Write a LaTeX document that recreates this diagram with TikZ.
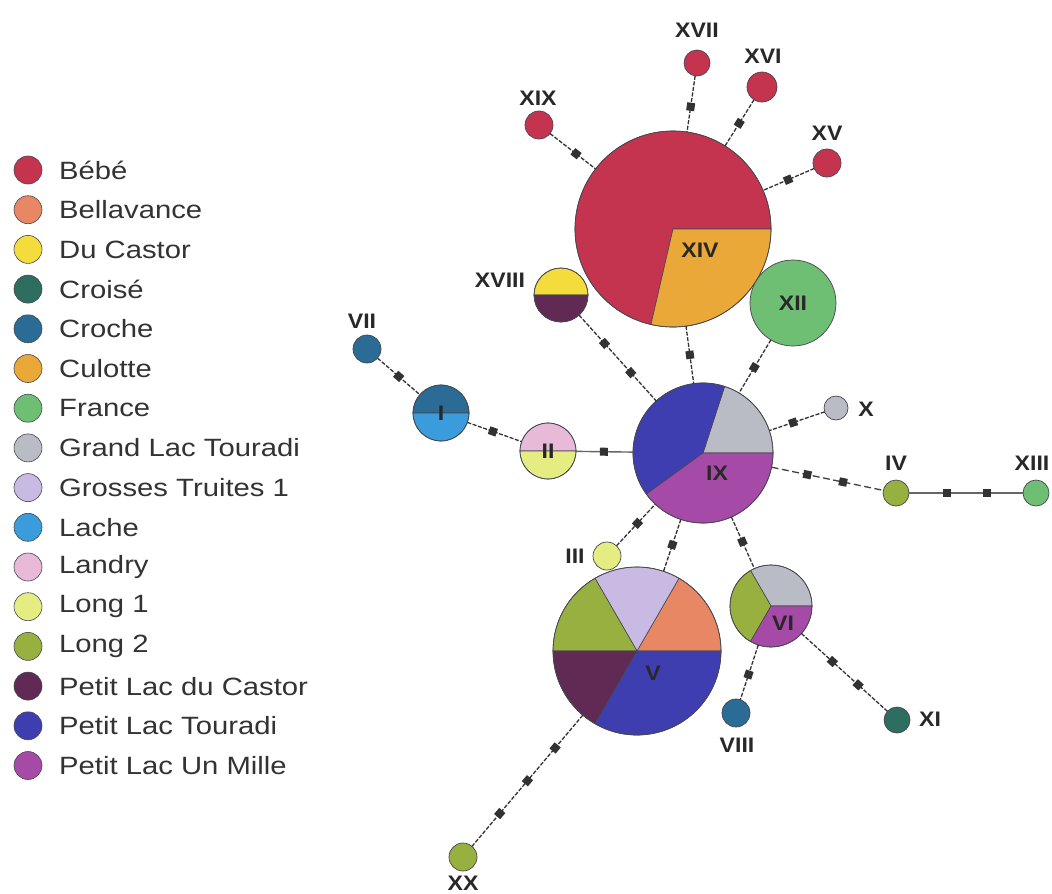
\documentclass[tikz,border=0pt]{standalone}
\usepackage{fontspec}
\setmainfont{Liberation Sans}
\definecolor{bebe}{RGB}{196,52,78}
\definecolor{bellavance}{RGB}{232,135,100}
\definecolor{ducastor}{RGB}{244,220,60}
\definecolor{croise}{RGB}{46,110,96}
\definecolor{croche}{RGB}{42,108,150}
\definecolor{culotte}{RGB}{234,168,56}
\definecolor{france}{RGB}{110,190,115}
\definecolor{grandlac}{RGB}{185,188,196}
\definecolor{grosses}{RGB}{200,186,226}
\definecolor{lache}{RGB}{58,156,218}
\definecolor{landry}{RGB}{232,186,216}
\definecolor{longone}{RGB}{228,236,130}
\definecolor{longtwo}{RGB}{152,176,64}
\definecolor{pldc}{RGB}{96,42,84}
\definecolor{plt}{RGB}{62,62,176}
\definecolor{plum}{RGB}{166,74,168}
\definecolor{edgec}{RGB}{70,70,80}
\definecolor{markc}{RGB}{50,50,50}
\definecolor{numc}{RGB}{40,40,40}
\newcommand{\pslice}[5]{\fill[#5, draw=edgec, line width=0.6pt] (#1) -- ++(#3:#2pt) arc[start angle=#3, end angle=#4, radius=#2pt] -- cycle;}
\tikzset{
  hap/.style={circle, draw=edgec, line width=0.7pt, inner sep=0pt, outer sep=0pt},
  pienode/.style={circle, draw=edgec, line width=0.7pt, inner sep=0pt, outer sep=0pt},
  legdot/.style={circle, draw=edgec, line width=0.6pt, minimum size=28pt, inner sep=0pt},
  legtext/.style={anchor=west, inner sep=0pt, font=\fontsize{25}{28}\selectfont, text=black!80},
  num/.style={inner sep=0pt, font=\bfseries\fontsize{21}{24}\selectfont, text=numc},
  link/.style={draw=black!80, line width=1.3pt, dash pattern=on 4pt off 1.6pt},
  longlink/.style={draw=black!75, line width=1.3pt, dash pattern=on 7pt off 3.5pt},
  solidlink/.style={draw=black!60, line width=1.4pt},
  mut/.style={rectangle, fill=markc, minimum size=8pt, inner sep=0pt, sloped}
}
\begin{document}
\begin{tikzpicture}[x=1pt, y=-1pt]
\useasboundingbox[fill=white] (0,0) rectangle (1052,894);

% ---------- legend ----------
\foreach \c/\t [count=\i from 0] in {bebe/Bébé, bellavance/Bellavance, ducastor/Du Castor, croise/Croisé, croche/Croche, culotte/Culotte, france/France, grandlac/Grand Lac Touradi, grosses/Grosses Truites 1, lache/Lache, landry/Landry, longone/Long 1, longtwo/Long 2, pldc/Petit Lac du Castor, plt/Petit Lac Touradi, plum/Petit Lac Un Mille}{
  \node[legdot, fill=\c] (leg\i) at (28, 170+39.7*\i) {};
  \node[legtext] (legt\i) at (59, 170+39.7*\i) {\scalebox{1.17}[1]{\t}};
}

% ---------- pie charts ----------
% XIV
\coordinate (cXIV) at (673,229);
\pslice{cXIV}{98}{0}{257}{bebe}
\pslice{cXIV}{98}{-103}{0}{culotte}
\node[pienode, minimum size=196pt] (XIV) at (cXIV) {};
\node[num] (tXIV) at (700,250) {\scalebox{1.1}[1]{XIV}};

% XVIII
\coordinate (cXVIII) at (561,295);
\pslice{cXVIII}{27}{0}{180}{ducastor}
\pslice{cXVIII}{27}{180}{360}{pldc}
\node[pienode, minimum size=54pt] (XVIII) at (cXVIII) {};

% IX
\coordinate (cIX) at (703,453);
\pslice{cIX}{70}{0}{72}{grandlac}
\pslice{cIX}{70}{72}{216}{plt}
\pslice{cIX}{70}{216}{360}{plum}
\node[pienode, minimum size=140pt] (IX) at (cIX) {};
\node[num] (tIX) at (717,473) {\scalebox{1.1}[1]{IX}};

% II
\coordinate (cII) at (548,451);
\pslice{cII}{28}{0}{180}{landry}
\pslice{cII}{28}{180}{360}{longone}
\node[pienode, minimum size=56pt] (II) at (cII) {};
\node[num] (tII) at (548,451) {\scalebox{1.1}[1]{II}};

% I
\coordinate (cI) at (441,413);
\pslice{cI}{28}{0}{180}{croche}
\pslice{cI}{28}{180}{360}{lache}
\node[pienode, minimum size=56pt] (I) at (cI) {};
\node[num] (tI) at (441,413) {\scalebox{1.1}[1]{I}};

% V
\coordinate (cV) at (637,651);
\pslice{cV}{84}{0}{60}{bellavance}
\pslice{cV}{84}{60}{120}{grosses}
\pslice{cV}{84}{120}{180}{longtwo}
\pslice{cV}{84}{180}{240}{pldc}
\pslice{cV}{84}{240}{360}{plt}
\node[pienode, minimum size=168pt] (V) at (cV) {};
\node[num] (tV) at (653,673) {\scalebox{1.1}[1]{V}};

% VI
\coordinate (cVI) at (771,606);
\pslice{cVI}{41}{0}{120}{grandlac}
\pslice{cVI}{41}{120}{240}{longtwo}
\pslice{cVI}{41}{240}{360}{plum}
\node[pienode, minimum size=82pt] (VI) at (cVI) {};
\node[num] (tVI) at (783,623) {\scalebox{1.1}[1]{VI}};

% ---------- single-colour haplotypes ----------
\node[hap, fill=bebe, minimum size=26pt] (XVII) at (697,63) {};
\node[hap, fill=bebe, minimum size=30pt] (XVI) at (762,87) {};
\node[hap, fill=bebe, minimum size=28pt] (XV) at (827,163) {};
\node[hap, fill=bebe, minimum size=28pt] (XIX) at (539,125) {};
\node[hap, fill=france, minimum size=86pt, font=\bfseries\fontsize{21}{24}\selectfont, text=numc] (XII) at (793,303) {\scalebox{1.1}[1]{XII}};
\node[hap, fill=croche, minimum size=28pt] (VII) at (367,349) {};
\node[hap, fill=grandlac, minimum size=24pt] (X) at (836,408) {};
\node[hap, fill=longtwo, minimum size=26pt] (IV) at (896,493) {};
\node[hap, fill=france, minimum size=26pt] (XIII) at (1036,493) {};
\node[hap, fill=longone, minimum size=28pt] (III) at (607,556) {};
\node[hap, fill=croche, minimum size=28pt] (VIII) at (736,713) {};
\node[hap, fill=croise, minimum size=26pt] (XI) at (897,720) {};
\node[hap, fill=longtwo, minimum size=28pt] (XX) at (463,857) {};

% ---------- labels ----------
\node[num] (tXVII) at (697,30) {\scalebox{1.1}[1]{XVII}};
\node[num] (tXVI) at (763,56) {\scalebox{1.1}[1]{XVI}};
\node[num] (tXV) at (827,133) {\scalebox{1.1}[1]{XV}};
\node[num] (tXIX) at (538,98) {\scalebox{1.1}[1]{XIX}};
\node[num] (tXVIII) at (500,280) {\scalebox{1.1}[1]{XVIII}};
\node[num] (tVII) at (362,321) {\scalebox{1.1}[1]{VII}};
\node[num] (tX) at (866,409) {\scalebox{1.1}[1]{X}};
\node[num] (tIV) at (896,463) {\scalebox{1.1}[1]{IV}};
\node[num] (tXIII) at (1032,463) {\scalebox{1.1}[1]{XIII}};
\node[num] (tIII) at (575,556) {\scalebox{1.1}[1]{III}};
\node[num] (tVIII) at (737,745) {\scalebox{1.1}[1]{VIII}};
\node[num] (tXI) at (930,719) {\scalebox{1.1}[1]{XI}};
\node[num] (tXX) at (463,883) {\scalebox{1.1}[1]{XX}};

% ---------- connectors ----------
\draw[link] (XIX) -- node[mut,pos=.57]{} (XIV);
\draw[link] (XVII) -- node[mut,pos=.55]{} (XIV);
\draw[link] (XVI) -- node[mut,pos=.51]{} (XIV);
\draw[link] (XV) -- node[mut,pos=.51]{} (XIV);
\draw[link] (XVIII) -- node[mut,pos=.33]{} node[mut,pos=.67]{} (IX);
\draw[link] (XIV) -- node[mut,pos=.5]{} (IX);
\draw[link] (XII) -- node[mut,pos=.52]{} (IX);
\draw[link] (X) -- node[mut,pos=.57]{} (IX);
\draw[longlink] (IX) -- node[mut,pos=.32]{} node[mut,pos=.64]{} (IV);
\draw[solidlink] (IV) -- node[mut,pos=.33]{} node[mut,pos=.68]{} (XIII);
\draw[solidlink] (II) -- node[mut,pos=.49]{} (IX);
\draw[link] (I) -- node[mut,pos=.47]{} (II);
\draw[link] (VII) -- node[mut,pos=.5]{} (I);
\draw[link] (III) -- node[mut,pos=.54]{} (IX);
\draw[link] (IX) -- node[mut,pos=.49]{} (V);
\draw[link] (IX) -- node[mut,pos=.48]{} (VI);
\draw[link] (VI) -- node[mut,pos=.54]{} (VIII);
\draw[link] (VI) -- node[mut,pos=.36]{} node[mut,pos=.66]{} (XI);
\draw[link] (V) -- node[mut,pos=.25]{} node[mut,pos=.5]{} node[mut,pos=.75]{} (XX);
\end{tikzpicture}
\end{document}
